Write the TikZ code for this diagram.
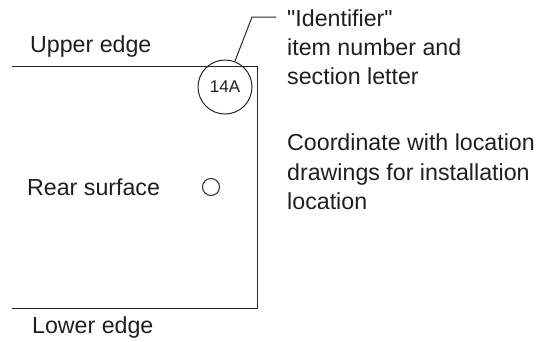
\documentclass[tikz,border=0pt]{standalone}
\usepackage{fontspec}
\newfontfamily\plainsans{Liberation Sans}
\tikzset{lbl/.style={inner sep=0pt,anchor=base west,font=\plainsans\fontsize{23.2}{28}\selectfont,text=black!88},
edge/.style={draw=black!85,line width=1pt}}
\begin{document}
\begin{tikzpicture}[x=1pt,y=-1pt]
\useasboundingbox (0,0) rectangle (551,341);
\coordinate (tl) at (12,66);
\coordinate (tr) at (257,66);
\coordinate (br) at (257,308);
\coordinate (bl) at (12,308);
\draw[edge] (tl) -- (tr) -- (br) -- (bl);
\node[circle,draw=black!85,line width=1pt,minimum size=54pt,inner sep=0pt,font=\plainsans\fontsize{17}{20}\selectfont,text=black!88] (id) at (225,87) {14A};
\node[circle,draw=black!85,line width=1pt,minimum size=17pt,inner sep=0pt] (hole) at (211,187) {};
\coordinate (t1) at (276,17);
\coordinate (t2) at (252,17);
\draw[edge] (t1) -- (t2) -- (id);
\node[lbl] (a) at (30,52) {Upper edge};
\node[lbl] (b) at (27,195) {Rear surface};
\node[lbl] (c) at (32,333) {Lower edge};
\node[lbl] (d) at (287,26) {"Identifier"};
\node[lbl] (e) at (287,55) {item number and};
\node[lbl] (f) at (287,84) {section letter};
\node[lbl] (g) at (287,150) {Coordinate with location};
\node[lbl] (h) at (287,180) {drawings for installation};
\node[lbl] (i) at (287,209) {location};
\end{tikzpicture}
\end{document}
